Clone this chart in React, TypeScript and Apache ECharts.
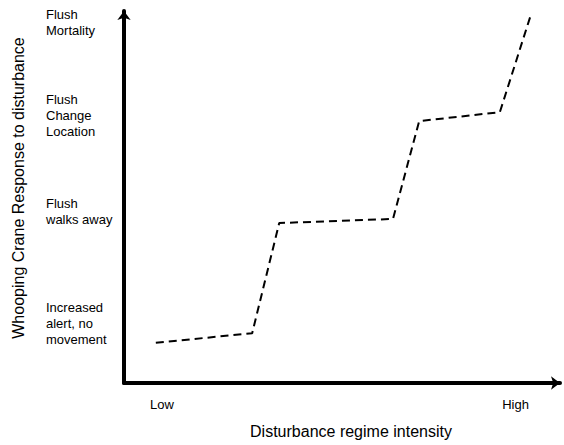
import React, { useEffect, useRef } from "react";
import * as echarts from "echarts";

// Conceptual curve: disturbance intensity (x, 0-100) vs crane response (y, 0-100)
const curveX = [7.3, 29.4, 35.6, 61.7, 67.7, 86.2, 93.3];
const curveY = [10.8, 13.4, 43.0, 44.1, 70.4, 72.8, 98.9];

// Response levels on the y axis
const responseLabels = [
  "Increased\nalert, no\nmovement",
  "Flush\nwalks away",
  "Flush\nChange\nLocation",
  "Flush\nMortality",
];
const responseLevels = [15.9, 46.0, 71.8, 97.0];

// Intensity labels on the x axis
const intensityLabels = ["Low", "High"];
const intensityLevels = [8.7, 89.8];

const xTitle = "Disturbance regime intensity";
const yTitle = "Whooping Crane Response to disturbance";

const FONT = "Liberation Sans, Arial, Helvetica, sans-serif";

export default function App() {
  const ref = useRef<HTMLDivElement>(null);

  useEffect(() => {
    document.body.style.margin = "0";
    if (!ref.current) return;
    const chart = echarts.init(ref.current, null, { renderer: "svg" });
    const lookup = (vals: number[], labels: string[]) => (v: number) => {
      let best = 0;
      for (let i = 1; i < vals.length; i++) {
        if (Math.abs(vals[i] - v) < Math.abs(vals[best] - v)) best = i;
      }
      return labels[best];
    };
    chart.setOption({
      animation: false,
      backgroundColor: "#ffffff",
      grid: { left: 124, right: 4, top: 11, bottom: 62, containLabel: false },
      xAxis: {
        type: "value",
        min: 0,
        max: 100,
        axisLine: {
          show: true,
          onZero: false,
          symbol: ["none", "arrow"],
          symbolSize: [10, 9],
          lineStyle: { color: "#000", width: 4 },
        },
        axisTick: { show: false },
        splitLine: { show: false },
        axisLabel: {
          customValues: intensityLevels,
          formatter: lookup(intensityLevels, intensityLabels),
          margin: 15,
          fontSize: 13,
          fontFamily: FONT,
          color: "#000",
        },
      },
      yAxis: {
        type: "value",
        min: 0,
        max: 100,
        axisLine: {
          show: true,
          onZero: false,
          symbol: ["none", "arrow"],
          symbolSize: [10, 9],
          lineStyle: { color: "#000", width: 4 },
        },
        axisTick: { show: false },
        splitLine: { show: false },
        axisLabel: {
          customValues: responseLevels,
          formatter: lookup(responseLevels, responseLabels),
          margin: 78,
          align: "left",
          verticalAlign: "middle",
          fontSize: 13,
          lineHeight: 16,
          fontFamily: FONT,
          color: "#000",
        },
      },
      graphic: [
        {
          type: "text",
          x: 351,
          y: 431,
          style: {
            text: xTitle,
            font: `16px ${FONT}`,
            fill: "#000",
            align: "center",
            verticalAlign: "middle",
          },
        },
        {
          type: "text",
          x: 18,
          y: 188,
          rotation: Math.PI / 2,
          style: {
            text: yTitle,
            font: `16px ${FONT}`,
            fill: "#000",
            align: "center",
            verticalAlign: "middle",
          },
        },
      ],
      series: [
        {
          type: "line",
          data: curveX.map((x, i) => [x, curveY[i]]),
          showSymbol: false,
          symbol: "none",
          lineStyle: { color: "#000", width: 2, type: [8, 5] },
        },
      ],
    });
    return () => chart.dispose();
  }, []);

  return <div ref={ref} style={{ width: 564, height: 445 }} />;
}
